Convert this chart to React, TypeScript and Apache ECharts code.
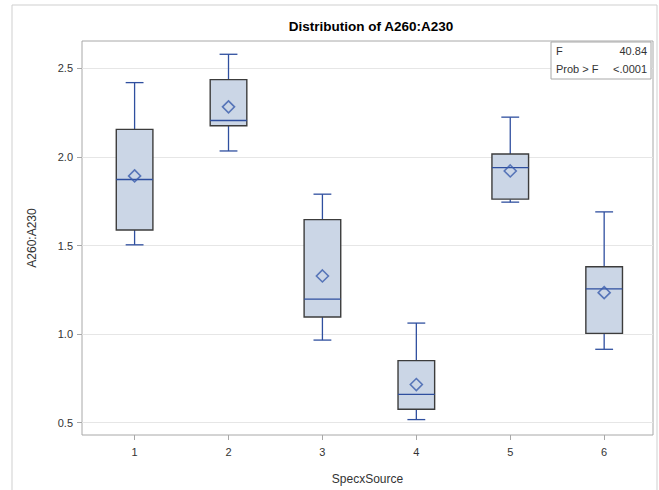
import React, { useEffect, useRef } from "react";
import * as echarts from "echarts";

const categories = ["1", "2", "3", "4", "5", "6"];
const whiskerLow = [1.504, 2.034, 0.966, 0.517, 1.745, 0.914];
const q1 = [1.588, 2.176, 1.096, 0.575, 1.762, 1.004];
const medians = [1.873, 2.206, 1.197, 0.659, 1.94, 1.255];
const q3 = [2.156, 2.437, 1.646, 0.85, 2.017, 1.38];
const whiskerHigh = [2.42, 2.58, 1.79, 1.062, 2.225, 1.69];
const means = [1.893, 2.283, 1.328, 0.715, 1.921, 1.234];
const yTicks = [0.5, 1.0, 1.5, 2.0, 2.5];
const fValue = "40.84";
const probValue = "<.0001";

const FONT = "'Liberation Sans', Arial, sans-serif";
const BLUE = "#2f4f9f";
const TEXT = "#333333";

export default function App() {
  const ref = useRef<HTMLDivElement>(null);
  useEffect(() => {
    if (!ref.current) return;
    const chart = echarts.init(ref.current, null, { renderer: "svg" });
    const boxData = categories.map((c, i) => [
      Number(c),
      whiskerLow[i],
      q1[i],
      medians[i],
      q3[i],
      whiskerHigh[i],
    ]);
    const meanData = categories.map((c, i) => [Number(c), means[i]]);
    const option: any = {
      animation: false,
      backgroundColor: "#ffffff",
      textStyle: { fontFamily: FONT },
      title: {
        text: "Distribution of A260:A230",
        left: 366,
        top: 14,
        textAlign: "center",
        textStyle: { fontFamily: FONT, fontSize: 13.5, fontWeight: "bold", color: "#000" },
      },
      grid: {
        left: 82,
        top: 41,
        right: 6,
        bottom: 53,
        show: true,
        borderColor: "#a8a8a8",
        borderWidth: 1,
        backgroundColor: "transparent",
        containLabel: false,
      },
      xAxis: {
        type: "value",
        min: 0.44,
        max: 6.52,
        name: "SpecxSource",
        nameLocation: "middle",
        nameGap: 38,
        nameTextStyle: { fontFamily: FONT, fontSize: 12, color: TEXT },
        axisLine: { show: false },
        axisTick: { show: true, length: 5, lineStyle: { color: "#a8a8a8" }, customValues: categories.map(Number) },
        axisLabel: {
          customValues: categories.map(Number),
          fontFamily: FONT,
          fontSize: 11,
          color: TEXT,
          margin: 11,
          formatter: (v: number) => String(Math.round(v)),
        },
        splitLine: { show: false },
      },
      yAxis: {
        type: "value",
        min: 0.43,
        max: 2.655,
        name: "A260:A230",
        nameLocation: "middle",
        nameGap: 44,
        nameTextStyle: { fontFamily: FONT, fontSize: 12, color: TEXT },
        axisLine: { show: false },
        axisTick: { show: true, length: 5, lineStyle: { color: "#a8a8a8" }, customValues: yTicks },
        axisLabel: {
          customValues: yTicks,
          fontFamily: FONT,
          fontSize: 11,
          color: TEXT,
          margin: 9,
          formatter: (v: number) => v.toFixed(1),
        },
        splitLine: { show: false },
      },
      series: [
        {
          type: "line",
          data: [],
          z: 1,
          silent: true,
          markLine: {
            silent: true,
            z: 1,
            symbol: ["none", "none"],
            label: { show: false },
            lineStyle: { color: "#e6e6e6", type: "solid", width: 1 },
            data: yTicks.map((v) => ({ yAxis: v })),
          },
        },
        {
          type: "custom",
          z: 3,
          data: boxData,
          encode: { x: 0, y: [1, 2, 3, 4, 5] },
          renderItem: (params: any, api: any) => {
            const x = api.value(0);
            const lo = api.coord([x, api.value(1)]);
            const b1 = api.coord([x, api.value(2)]);
            const md = api.coord([x, api.value(3)]);
            const b3 = api.coord([x, api.value(4)]);
            const hi = api.coord([x, api.value(5)]);
            const unit = api.size([1, 0])[0];
            const bw = unit * 0.39;
            const cw = unit * 0.19;
            const cx = lo[0];
            const ws = { stroke: BLUE, lineWidth: 1.3 };
            return {
              type: "group",
              children: [
                { type: "line", shape: { x1: cx, y1: hi[1], x2: cx, y2: b3[1] }, style: ws },
                { type: "line", shape: { x1: cx, y1: b1[1], x2: cx, y2: lo[1] }, style: ws },
                { type: "line", shape: { x1: cx - cw / 2, y1: hi[1], x2: cx + cw / 2, y2: hi[1] }, style: ws },
                { type: "line", shape: { x1: cx - cw / 2, y1: lo[1], x2: cx + cw / 2, y2: lo[1] }, style: ws },
                {
                  type: "rect",
                  shape: { x: cx - bw / 2, y: b3[1], width: bw, height: b1[1] - b3[1] },
                  style: { fill: "#cbd6e6", stroke: "#3c3c3c", lineWidth: 1.4 },
                },
                { type: "line", shape: { x1: cx - bw / 2, y1: md[1], x2: cx + bw / 2, y2: md[1] }, style: ws },
              ],
            };
          },
        },
        {
          type: "scatter",
          z: 4,
          data: meanData,
          symbol: "diamond",
          symbolSize: [12, 12],
          itemStyle: { color: "rgba(0,0,0,0)", borderColor: "#3a5cad", borderWidth: 1.6 },
        },
      ],
      graphic: {
        elements: [
          {
            type: "rect",
            silent: true,
            shape: { x: 12, y: 5, width: 645, height: 500 },
            style: { fill: "none", stroke: "#cfcfcf", lineWidth: 1 },
            z: 0,
          },
          {
            type: "rect",
            z: 100,
            shape: { x: 551, y: 42, width: 100, height: 37 },
            style: { fill: "#ffffff", stroke: "#a8a8a8", lineWidth: 1 },
          },
          {
            type: "text",
            z: 101,
            x: 556,
            y: 51,
            style: { text: "F", fontFamily: FONT, fontSize: 11, fill: TEXT, verticalAlign: "middle", align: "left" },
          },
          {
            type: "text",
            z: 101,
            x: 647,
            y: 51,
            style: { text: fValue, fontFamily: FONT, fontSize: 11, fill: TEXT, verticalAlign: "middle", align: "right" },
          },
          {
            type: "text",
            z: 101,
            x: 556,
            y: 69,
            style: { text: "Prob > F", fontFamily: FONT, fontSize: 11, fill: TEXT, verticalAlign: "middle", align: "left" },
          },
          {
            type: "text",
            z: 101,
            x: 647,
            y: 69,
            style: { text: probValue, fontFamily: FONT, fontSize: 11, fill: TEXT, verticalAlign: "middle", align: "right" },
          },
        ],
      },
    };
    chart.setOption(option);
    return () => chart.dispose();
  }, []);
  return (
    <div
      ref={ref}
      style={{ position: "fixed", left: 0, top: 0, width: 659, height: 490, background: "#fff" }}
    />
  );
}
